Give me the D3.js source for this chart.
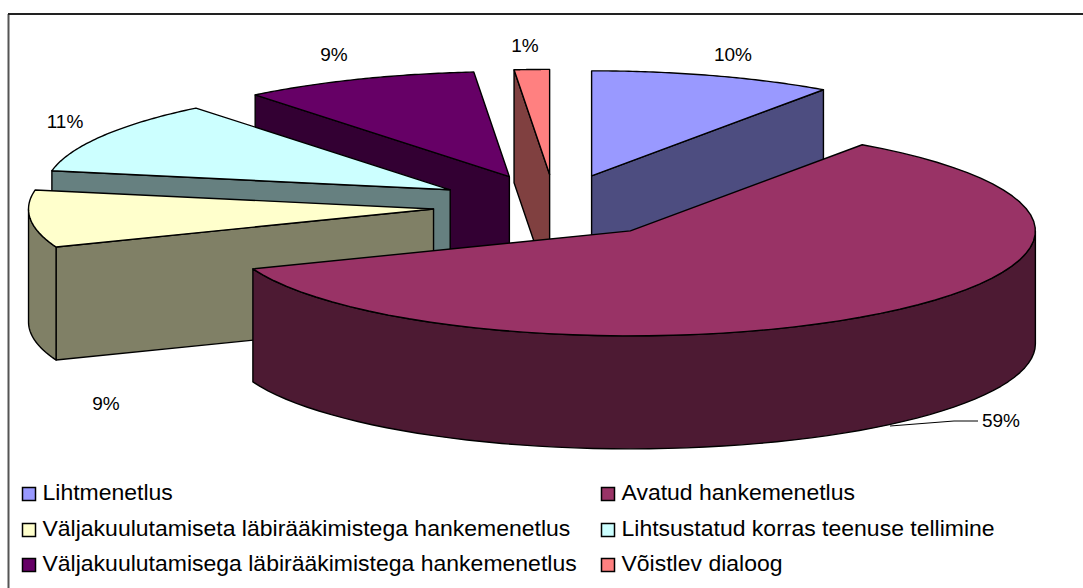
<!DOCTYPE html>
<html>
<head>
<meta charset="utf-8">
<title>Hankemenetlused</title>
<script src="https://d3js.org/d3.v7.min.js"></script>
<style>
  html, body { margin: 0; padding: 0; background: #fff; }
  svg { display: block; }
  text { font-family: "Liberation Sans", Arial, sans-serif; fill: #000; }
</style>
</head>
<body>
<svg width="1083" height="588"></svg>
<script>
// data
var categories = ["Lihtmenetlus", "Avatud hankemenetlus",
  "Väljakuulutamiseta läbirääkimistega hankemenetlus", "Lihtsustatud korras teenuse tellimine",
  "Väljakuulutamisega läbirääkimistega hankemenetlus", "Võistlev dialoog"];
var values = [9.7, 59.4, 8.8, 11.3, 9.4, 1.4];
var valueLabels = ["10%", "59%", "9%", "11%", "9%", "1%"];

var colors = ["#9999ff", "#993366", "#ffffcc", "#ccffff", "#660066", "#ff8080"];
// label anchors, same order as categories
var labelX = [733, 1001, 106, 65, 334, 525];
var labelY = [61, 427, 410, 128, 61, 52];

var svg = d3.select("svg");

// pie geometry
var cx = 555, cy = 206,
    rx = 405, ry = 105,
    depth = 113,
    explode = 122;

function half(c) {
  var r = d3.rgb(c);
  return d3.rgb(r.r / 2, r.g / 2, r.b / 2).formatHex();
}

// frame
svg.append("path")
  .attr("d", "M8.5,588V14")
  .attr("fill", "none")
  .attr("stroke", "#555")
  .attr("stroke-width", 2);
svg.append("path")
  .attr("d", "M8,14H1083")
  .attr("fill", "none")
  .attr("stroke", "#222")
  .attr("stroke-width", 2);

var arcs = d3.pie().sort(null).value(function(d) { return d; })(values);

function pt(s, t, dz) {
  return [s.x + rx * Math.sin(t), s.y - ry * Math.cos(t) + (dz || 0)];
}

var slices = arcs.map(function(a, i) {
  var mid = (a.startAngle + a.endAngle) / 2;
  return {
    i: i, a0: a.startAngle, a1: a.endAngle,
    x: cx + explode * Math.sin(mid),
    y: cy - explode * (ry / rx) * Math.cos(mid)
  };
});

function arcPoints(s, a0, a1, dz) {
  return d3.range(0, 61).map(function(k) {
    return pt(s, a0 + (a1 - a0) * k / 60, dz);
  });
}

var line = d3.line();

// cut face from the apex to the rim at angle t
function cutFace(s, t) {
  var p = pt(s, t);
  return line([[s.x, s.y], p, [p[0], p[1] + depth], [s.x, s.y + depth]]) + "Z";
}

// back to front
var order = slices.slice().sort(function(a, b) { return a.y - b.y; });

order.forEach(function(s) {
  var g = svg.append("g")
    .attr("stroke", "#000")
    .attr("stroke-width", 1.4)
    .attr("stroke-linejoin", "round");
  var side = half(colors[s.i]);

  if (Math.sin(s.a0) < -1e-6) g.append("path").attr("d", cutFace(s, s.a0)).attr("fill", side);
  if (Math.sin(s.a1) > 1e-6) g.append("path").attr("d", cutFace(s, s.a1)).attr("fill", side);

  // outer wall, only the part turned to the viewer
  var w0 = Math.max(s.a0, Math.PI / 2), w1 = Math.min(s.a1, Math.PI * 1.5);
  if (w1 > w0) {
    var wall = arcPoints(s, w0, w1, 0).concat(arcPoints(s, w0, w1, depth).reverse());
    g.append("path").attr("d", line(wall) + "Z").attr("fill", side);
  }

  // top
  var top = [[s.x, s.y]].concat(arcPoints(s, s.a0, s.a1, 0));
  g.append("path").attr("d", line(top) + "Z").attr("fill", colors[s.i]);
});

// leader of the big slice
svg.append("path")
  .attr("d", "M890,426L954,421H978")
  .attr("fill", "none")
  .attr("stroke", "#000")
  .attr("stroke-width", 1);

// value labels
svg.selectAll(".val")
  .data(valueLabels)
  .enter().append("text")
  .attr("class", "val")
  .attr("x", function(d, i) { return labelX[i]; })
  .attr("y", function(d, i) { return labelY[i]; })
  .attr("text-anchor", "middle")
  .style("font-size", "19px")
  .text(function(d) { return d; });

// legend, two columns by three rows
var legendX = d3.scaleOrdinal().domain([0, 1]).range([22, 601]);
var legendY = d3.scaleOrdinal().domain([0, 1, 2]).range([487, 523, 558]);

var item = svg.selectAll(".item")
  .data(categories)
  .enter().append("g")
  .attr("class", "item")
  .attr("transform", function(d, i) {
    return "translate(" + legendX(i % 2) + "," + legendY(Math.floor(i / 2)) + ")";
  });

item.append("rect")
  .attr("x", 0.5).attr("y", 0.5)
  .attr("width", 13).attr("height", 13)
  .attr("fill", function(d, i) { return colors[i]; })
  .attr("stroke", "#000")
  .attr("stroke-width", 1.5);

// the reference text is a little wider than the font, stretch it
item.append("text")
  .attr("transform", "translate(20.5,13) scale(1.07,1)")
  .style("font-size", "21.5px")
  .text(function(d) { return d; });
</script>
</body>
</html>
